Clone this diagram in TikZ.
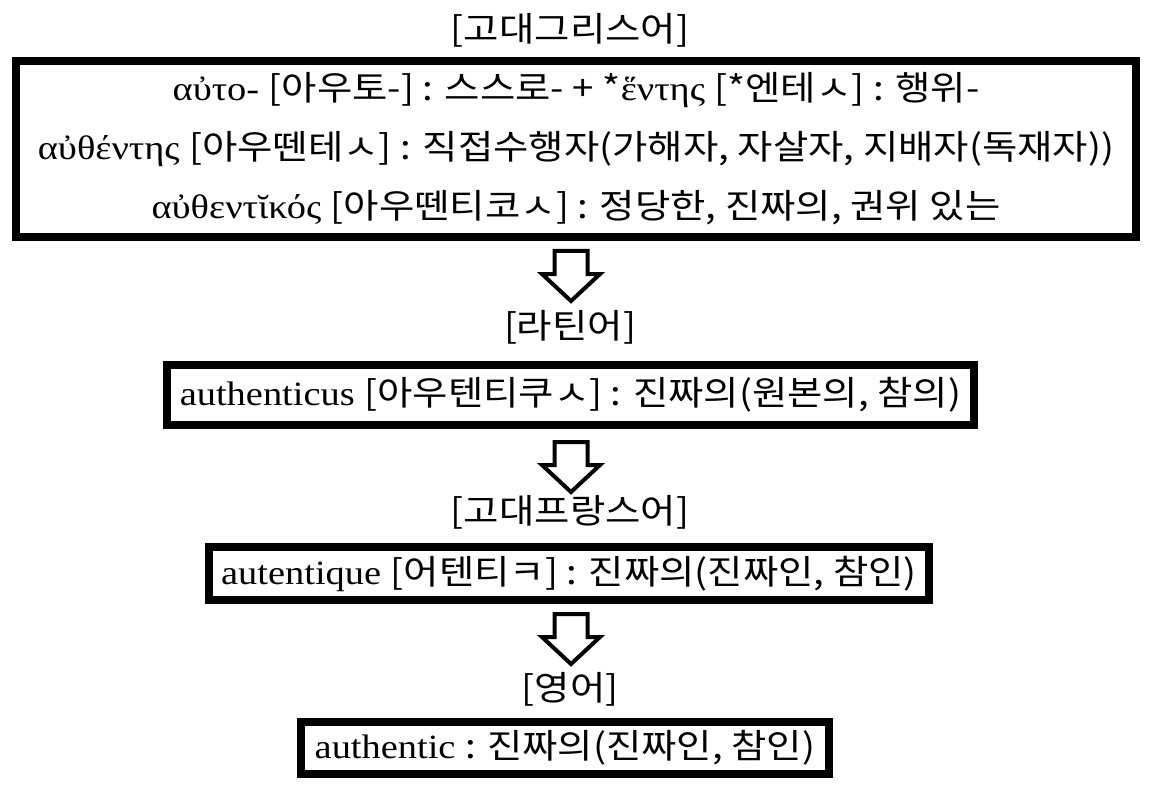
\documentclass[tikz,border=0pt]{standalone}
\usepackage{fontspec}
\setmainfont[FakeStretch=1.13]{Liberation Serif}
\newfontfamily\hgfont[FakeStretch=1.13]{Noto Sans CJK KR}
\newcommand{\hg}[1]{{\hgfont #1}}
\usetikzlibrary{positioning}

\tikzset{
  langbox/.style={draw, line width=8pt, inner sep=0pt, align=center,
    font=\fontsize{34}{59}\selectfont},
  langlabel/.style={inner sep=0pt, font=\fontsize{34}{40}\selectfont},
  downarrow/.pic={
    \draw[line width=4pt, line join=miter] (-16.5,0) -- (16.5,0) -- (16.5,23)
      -- (29,23) -- (0,50) -- (-29,23) -- (-16.5,23) -- cycle;
  }
}

\begin{document}
\begin{tikzpicture}[x=1pt, y=-1pt]
  \useasboundingbox (0,0) rectangle (1154,805);

  % ancient greek
  \node[langlabel] (greekhead) at (570,30) {\hg{[고대그리스어]}};
  \node[langbox, minimum width=1120, minimum height=176] (greekbox) at (576,149)
    {αὐτο- \hg{[아우토-] : 스스로- + *}ἕντης \hg{[*엔테ㅅ] : 행위-}\\
     αὐθέντης \hg{[아우뗀테ㅅ] : 직접수행자(가해자, 자살자, 지배자(독재자))}\\
     αὐθεντῐκός \hg{[아우뗀티코ㅅ] : 정당한, 진짜의, 권위 있는}};
  \pic (greekarrow) at (571,251) {downarrow};

  % latin
  \node[langlabel] (latinhead) at (570,327) {\hg{[라틴어]}};
  \node[langbox, minimum width=807, minimum height=60] (latinbox) at (570.5,395)
    {authenticus \hg{[아우텐티쿠ㅅ] : 진짜의(원본의, 참의)}};
  \pic (latinarrow) at (571,442) {downarrow};

  % old french
  \node[langlabel] (frenchhead) at (570,512) {\hg{[고대프랑스어]}};
  \node[langbox, minimum width=720, minimum height=53] (frenchbox) at (569,573.5)
    {autentique \hg{[어텐티ㅋ] : 진짜의(진짜인, 참인)}};
  \pic (frencharrow) at (571,614) {downarrow};

  % english
  \node[langlabel] (englishhead) at (570,689) {\hg{[영어]}};
  \node[langbox, minimum width=528, minimum height=52] (englishbox) at (565,748)
    {authentic \hg{: 진짜의(진짜인, 참인)}};
\end{tikzpicture}
\end{document}
